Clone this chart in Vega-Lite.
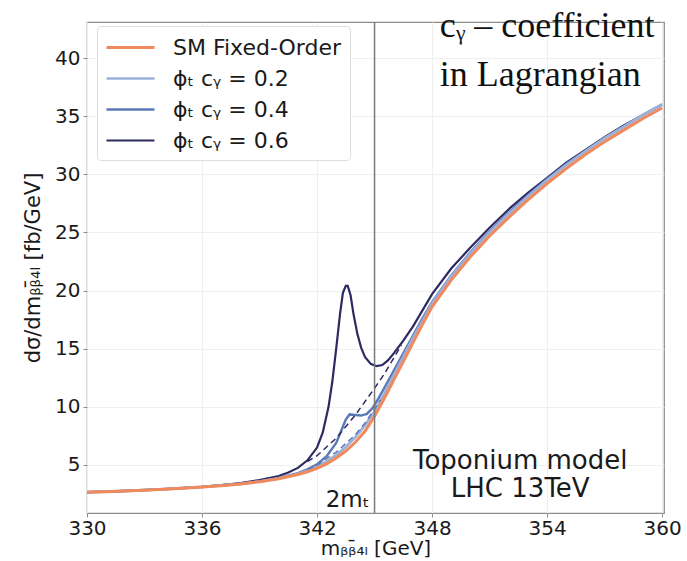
{
  "$schema": "https://vega.github.io/schema/vega-lite/v6.json",
  "autosize": {"type": "none"},
  "width": 577,
  "height": 491,
  "padding": {"left": 87, "top": 22, "right": 23, "bottom": 48},
  "background": "white",
  "config": {
    "font": "DejaVu Sans",
    "view": {"stroke": "#8c8c8c", "strokeWidth": 1.2},
    "axis": {
      "domain": false,
      "grid": true,
      "gridColor": "#efefef",
      "gridWidth": 1,
      "tickColor": "#8c8c8c",
      "tickSize": 4,
      "labelFont": "DejaVu Sans",
      "labelFontSize": 20,
      "labelColor": "#1a1a1a",
      "labelFlush": false,
      "titleFont": "DejaVu Sans",
      "titleFontSize": 20,
      "titleFontWeight": "normal",
      "titleColor": "#1a1a1a"
    }
  },
  "datasets": {
    "curves": [
      {"series": "ϕₜ  cᵧ = 0.6", "m": 330, "v": 2.66},
      {"series": "ϕₜ  cᵧ = 0.6", "m": 332, "v": 2.77},
      {"series": "ϕₜ  cᵧ = 0.6", "m": 334, "v": 2.93},
      {"series": "ϕₜ  cᵧ = 0.6", "m": 336, "v": 3.13},
      {"series": "ϕₜ  cᵧ = 0.6", "m": 337, "v": 3.27},
      {"series": "ϕₜ  cᵧ = 0.6", "m": 338, "v": 3.45},
      {"series": "ϕₜ  cᵧ = 0.6", "m": 339, "v": 3.7},
      {"series": "ϕₜ  cᵧ = 0.6", "m": 340, "v": 4.05},
      {"series": "ϕₜ  cᵧ = 0.6", "m": 340.5, "v": 4.35},
      {"series": "ϕₜ  cᵧ = 0.6", "m": 341, "v": 4.75},
      {"series": "ϕₜ  cᵧ = 0.6", "m": 341.5, "v": 5.4},
      {"series": "ϕₜ  cᵧ = 0.6", "m": 342, "v": 6.5},
      {"series": "ϕₜ  cᵧ = 0.6", "m": 342.3, "v": 7.8},
      {"series": "ϕₜ  cᵧ = 0.6", "m": 342.6, "v": 10.0},
      {"series": "ϕₜ  cᵧ = 0.6", "m": 342.8, "v": 12.2},
      {"series": "ϕₜ  cᵧ = 0.6", "m": 343.0, "v": 15.0},
      {"series": "ϕₜ  cᵧ = 0.6", "m": 343.2, "v": 18.0},
      {"series": "ϕₜ  cᵧ = 0.6", "m": 343.35, "v": 19.8},
      {"series": "ϕₜ  cᵧ = 0.6", "m": 343.5, "v": 20.4},
      {"series": "ϕₜ  cᵧ = 0.6", "m": 343.6, "v": 20.4},
      {"series": "ϕₜ  cᵧ = 0.6", "m": 343.75, "v": 19.6},
      {"series": "ϕₜ  cᵧ = 0.6", "m": 343.9, "v": 18.0},
      {"series": "ϕₜ  cᵧ = 0.6", "m": 344.1, "v": 16.3},
      {"series": "ϕₜ  cᵧ = 0.6", "m": 344.3, "v": 15.1},
      {"series": "ϕₜ  cᵧ = 0.6", "m": 344.5, "v": 14.3},
      {"series": "ϕₜ  cᵧ = 0.6", "m": 344.8, "v": 13.7},
      {"series": "ϕₜ  cᵧ = 0.6", "m": 345.1, "v": 13.5},
      {"series": "ϕₜ  cᵧ = 0.6", "m": 345.4, "v": 13.6},
      {"series": "ϕₜ  cᵧ = 0.6", "m": 345.7, "v": 14.0},
      {"series": "ϕₜ  cᵧ = 0.6", "m": 346.0, "v": 14.6},
      {"series": "ϕₜ  cᵧ = 0.6", "m": 346.5, "v": 15.7},
      {"series": "ϕₜ  cᵧ = 0.6", "m": 347, "v": 16.9},
      {"series": "ϕₜ  cᵧ = 0.6", "m": 347.5, "v": 18.3},
      {"series": "ϕₜ  cᵧ = 0.6", "m": 348, "v": 19.7},
      {"series": "ϕₜ  cᵧ = 0.6", "m": 349, "v": 21.9},
      {"series": "ϕₜ  cᵧ = 0.6", "m": 350, "v": 23.7},
      {"series": "ϕₜ  cᵧ = 0.6", "m": 351, "v": 25.4},
      {"series": "ϕₜ  cᵧ = 0.6", "m": 352, "v": 27.0},
      {"series": "ϕₜ  cᵧ = 0.6", "m": 353, "v": 28.4},
      {"series": "ϕₜ  cᵧ = 0.6", "m": 354, "v": 29.7},
      {"series": "ϕₜ  cᵧ = 0.6", "m": 355, "v": 31.0},
      {"series": "ϕₜ  cᵧ = 0.6", "m": 356, "v": 32.1},
      {"series": "ϕₜ  cᵧ = 0.6", "m": 357, "v": 33.2},
      {"series": "ϕₜ  cᵧ = 0.6", "m": 358, "v": 34.2},
      {"series": "ϕₜ  cᵧ = 0.6", "m": 359, "v": 35.1},
      {"series": "ϕₜ  cᵧ = 0.6", "m": 360, "v": 36.0},

      {"series": "ϕₜ  cᵧ = 0.4", "m": 330, "v": 2.66},
      {"series": "ϕₜ  cᵧ = 0.4", "m": 332, "v": 2.77},
      {"series": "ϕₜ  cᵧ = 0.4", "m": 334, "v": 2.92},
      {"series": "ϕₜ  cᵧ = 0.4", "m": 336, "v": 3.11},
      {"series": "ϕₜ  cᵧ = 0.4", "m": 338, "v": 3.39},
      {"series": "ϕₜ  cᵧ = 0.4", "m": 339, "v": 3.59},
      {"series": "ϕₜ  cᵧ = 0.4", "m": 340, "v": 3.88},
      {"series": "ϕₜ  cᵧ = 0.4", "m": 341, "v": 4.3},
      {"series": "ϕₜ  cᵧ = 0.4", "m": 341.5, "v": 4.62},
      {"series": "ϕₜ  cᵧ = 0.4", "m": 342, "v": 5.05},
      {"series": "ϕₜ  cᵧ = 0.4", "m": 342.5, "v": 5.75},
      {"series": "ϕₜ  cᵧ = 0.4", "m": 343, "v": 6.9},
      {"series": "ϕₜ  cᵧ = 0.4", "m": 343.3, "v": 8.1},
      {"series": "ϕₜ  cᵧ = 0.4", "m": 343.5, "v": 8.9},
      {"series": "ϕₜ  cᵧ = 0.4", "m": 343.7, "v": 9.35},
      {"series": "ϕₜ  cᵧ = 0.4", "m": 344.0, "v": 9.3},
      {"series": "ϕₜ  cᵧ = 0.4", "m": 344.3, "v": 9.25},
      {"series": "ϕₜ  cᵧ = 0.4", "m": 344.6, "v": 9.4},
      {"series": "ϕₜ  cᵧ = 0.4", "m": 344.9, "v": 9.9},
      {"series": "ϕₜ  cᵧ = 0.4", "m": 345.2, "v": 10.7},
      {"series": "ϕₜ  cᵧ = 0.4", "m": 345.6, "v": 11.9},
      {"series": "ϕₜ  cᵧ = 0.4", "m": 346.0, "v": 13.1},
      {"series": "ϕₜ  cᵧ = 0.4", "m": 346.5, "v": 14.6},
      {"series": "ϕₜ  cᵧ = 0.4", "m": 347, "v": 16.1},
      {"series": "ϕₜ  cᵧ = 0.4", "m": 347.5, "v": 17.6},
      {"series": "ϕₜ  cᵧ = 0.4", "m": 348, "v": 19.0},
      {"series": "ϕₜ  cᵧ = 0.4", "m": 349, "v": 21.3},
      {"series": "ϕₜ  cᵧ = 0.4", "m": 350, "v": 23.3},
      {"series": "ϕₜ  cᵧ = 0.4", "m": 351, "v": 25.1},
      {"series": "ϕₜ  cᵧ = 0.4", "m": 352, "v": 26.7},
      {"series": "ϕₜ  cᵧ = 0.4", "m": 353, "v": 28.2},
      {"series": "ϕₜ  cᵧ = 0.4", "m": 354, "v": 29.6},
      {"series": "ϕₜ  cᵧ = 0.4", "m": 355, "v": 30.9},
      {"series": "ϕₜ  cᵧ = 0.4", "m": 356, "v": 32.0},
      {"series": "ϕₜ  cᵧ = 0.4", "m": 357, "v": 33.1},
      {"series": "ϕₜ  cᵧ = 0.4", "m": 358, "v": 34.1},
      {"series": "ϕₜ  cᵧ = 0.4", "m": 359, "v": 35.1},
      {"series": "ϕₜ  cᵧ = 0.4", "m": 360, "v": 36.0},

      {"series": "ϕₜ  cᵧ = 0.2", "m": 330, "v": 2.66},
      {"series": "ϕₜ  cᵧ = 0.2", "m": 332, "v": 2.77},
      {"series": "ϕₜ  cᵧ = 0.2", "m": 334, "v": 2.92},
      {"series": "ϕₜ  cᵧ = 0.2", "m": 336, "v": 3.11},
      {"series": "ϕₜ  cᵧ = 0.2", "m": 338, "v": 3.38},
      {"series": "ϕₜ  cᵧ = 0.2", "m": 339, "v": 3.57},
      {"series": "ϕₜ  cᵧ = 0.2", "m": 340, "v": 3.85},
      {"series": "ϕₜ  cᵧ = 0.2", "m": 341, "v": 4.24},
      {"series": "ϕₜ  cᵧ = 0.2", "m": 341.5, "v": 4.5},
      {"series": "ϕₜ  cᵧ = 0.2", "m": 342, "v": 4.85},
      {"series": "ϕₜ  cᵧ = 0.2", "m": 342.5, "v": 5.3},
      {"series": "ϕₜ  cᵧ = 0.2", "m": 343, "v": 5.85},
      {"series": "ϕₜ  cᵧ = 0.2", "m": 343.5, "v": 6.55},
      {"series": "ϕₜ  cᵧ = 0.2", "m": 344, "v": 7.4},
      {"series": "ϕₜ  cᵧ = 0.2", "m": 344.5, "v": 8.4},
      {"series": "ϕₜ  cᵧ = 0.2", "m": 345, "v": 9.6},
      {"series": "ϕₜ  cᵧ = 0.2", "m": 345.5, "v": 11.1},
      {"series": "ϕₜ  cᵧ = 0.2", "m": 346, "v": 12.7},
      {"series": "ϕₜ  cᵧ = 0.2", "m": 346.5, "v": 14.3},
      {"series": "ϕₜ  cᵧ = 0.2", "m": 347, "v": 15.9},
      {"series": "ϕₜ  cᵧ = 0.2", "m": 347.5, "v": 17.4},
      {"series": "ϕₜ  cᵧ = 0.2", "m": 348, "v": 18.9},
      {"series": "ϕₜ  cᵧ = 0.2", "m": 349, "v": 21.2},
      {"series": "ϕₜ  cᵧ = 0.2", "m": 350, "v": 23.2},
      {"series": "ϕₜ  cᵧ = 0.2", "m": 351, "v": 25.0},
      {"series": "ϕₜ  cᵧ = 0.2", "m": 352, "v": 26.6},
      {"series": "ϕₜ  cᵧ = 0.2", "m": 353, "v": 28.1},
      {"series": "ϕₜ  cᵧ = 0.2", "m": 354, "v": 29.5},
      {"series": "ϕₜ  cᵧ = 0.2", "m": 355, "v": 30.8},
      {"series": "ϕₜ  cᵧ = 0.2", "m": 356, "v": 32.0},
      {"series": "ϕₜ  cᵧ = 0.2", "m": 357, "v": 33.1},
      {"series": "ϕₜ  cᵧ = 0.2", "m": 358, "v": 34.1},
      {"series": "ϕₜ  cᵧ = 0.2", "m": 359, "v": 35.1},
      {"series": "ϕₜ  cᵧ = 0.2", "m": 360, "v": 36.0},

      {"series": "SM Fixed-Order", "m": 330, "v": 2.65},
      {"series": "SM Fixed-Order", "m": 331, "v": 2.7},
      {"series": "SM Fixed-Order", "m": 332, "v": 2.76},
      {"series": "SM Fixed-Order", "m": 333, "v": 2.83},
      {"series": "SM Fixed-Order", "m": 334, "v": 2.91},
      {"series": "SM Fixed-Order", "m": 335, "v": 3.0},
      {"series": "SM Fixed-Order", "m": 336, "v": 3.1},
      {"series": "SM Fixed-Order", "m": 337, "v": 3.22},
      {"series": "SM Fixed-Order", "m": 338, "v": 3.37},
      {"series": "SM Fixed-Order", "m": 339, "v": 3.56},
      {"series": "SM Fixed-Order", "m": 340, "v": 3.82},
      {"series": "SM Fixed-Order", "m": 341, "v": 4.18},
      {"series": "SM Fixed-Order", "m": 341.5, "v": 4.42},
      {"series": "SM Fixed-Order", "m": 342, "v": 4.72},
      {"series": "SM Fixed-Order", "m": 342.5, "v": 5.1},
      {"series": "SM Fixed-Order", "m": 343, "v": 5.6},
      {"series": "SM Fixed-Order", "m": 343.5, "v": 6.2},
      {"series": "SM Fixed-Order", "m": 344, "v": 6.95},
      {"series": "SM Fixed-Order", "m": 344.5, "v": 7.9},
      {"series": "SM Fixed-Order", "m": 345, "v": 9.2},
      {"series": "SM Fixed-Order", "m": 345.5, "v": 10.7},
      {"series": "SM Fixed-Order", "m": 346, "v": 12.3},
      {"series": "SM Fixed-Order", "m": 346.5, "v": 13.9},
      {"series": "SM Fixed-Order", "m": 347, "v": 15.5},
      {"series": "SM Fixed-Order", "m": 347.5, "v": 17.1},
      {"series": "SM Fixed-Order", "m": 348, "v": 18.6},
      {"series": "SM Fixed-Order", "m": 349, "v": 20.9},
      {"series": "SM Fixed-Order", "m": 350, "v": 22.9},
      {"series": "SM Fixed-Order", "m": 351, "v": 24.7},
      {"series": "SM Fixed-Order", "m": 352, "v": 26.3},
      {"series": "SM Fixed-Order", "m": 353, "v": 27.8},
      {"series": "SM Fixed-Order", "m": 354, "v": 29.2},
      {"series": "SM Fixed-Order", "m": 355, "v": 30.5},
      {"series": "SM Fixed-Order", "m": 356, "v": 31.7},
      {"series": "SM Fixed-Order", "m": 357, "v": 32.8},
      {"series": "SM Fixed-Order", "m": 358, "v": 33.8},
      {"series": "SM Fixed-Order", "m": 359, "v": 34.8},
      {"series": "SM Fixed-Order", "m": 360, "v": 35.7}
    ],
    "continuum": [
      {"series": "ϕₜ  cᵧ = 0.6", "m": 341.5, "v": 5.3},
      {"series": "ϕₜ  cᵧ = 0.6", "m": 342, "v": 5.8},
      {"series": "ϕₜ  cᵧ = 0.6", "m": 343, "v": 7.3},
      {"series": "ϕₜ  cᵧ = 0.6", "m": 344, "v": 9.3},
      {"series": "ϕₜ  cᵧ = 0.6", "m": 345, "v": 11.6},
      {"series": "ϕₜ  cᵧ = 0.6", "m": 345.5, "v": 12.8},
      {"series": "ϕₜ  cᵧ = 0.6", "m": 346, "v": 14.2},
      {"series": "ϕₜ  cᵧ = 0.6", "m": 346.4, "v": 15.3},
      {"series": "ϕₜ  cᵧ = 0.4", "m": 341.5, "v": 4.6},
      {"series": "ϕₜ  cᵧ = 0.4", "m": 342, "v": 5.0},
      {"series": "ϕₜ  cᵧ = 0.4", "m": 343, "v": 6.1},
      {"series": "ϕₜ  cᵧ = 0.4", "m": 344, "v": 7.6},
      {"series": "ϕₜ  cᵧ = 0.4", "m": 344.5, "v": 8.6},
      {"series": "ϕₜ  cᵧ = 0.4", "m": 345, "v": 9.8},
      {"series": "ϕₜ  cᵧ = 0.4", "m": 345.3, "v": 10.6}
    ],
    "one": [{}]
  },
  "encoding": {
    "x": {
      "type": "quantitative",
      "scale": {"domain": [330, 360.1], "nice": false, "zero": false},
      "axis": {"values": [330, 336, 342, 348, 354, 360], "title": "mᵦᵦ̄₄ₗ   [GeV]", "titlePadding": 0, "labelPadding": 1}
    },
    "y": {
      "type": "quantitative",
      "scale": {"domain": [0.87, 43.1], "nice": false, "zero": false},
      "axis": {"values": [5, 10, 15, 20, 25, 30, 35, 40], "title": "dσ/dmᵦᵦ̄₄ₗ   [fb/GeV]", "titleFontSize": 21, "titlePadding": 11, "labelPadding": 3}
    }
  },
  "layer": [
    {
      "data": {"name": "curves"},
      "mark": {"type": "line", "clip": true},
      "encoding": {
        "x": {"field": "m", "type": "quantitative"},
        "y": {"field": "v", "type": "quantitative"},
        "color": {
          "field": "series",
          "type": "nominal",
          "sort": null,
          "scale": {
            "domain": ["SM Fixed-Order", "ϕₜ  cᵧ = 0.2", "ϕₜ  cᵧ = 0.4", "ϕₜ  cᵧ = 0.6"],
            "range": ["#f08a5d", "#9db0d8", "#5b79b6", "#2d2a62"]
          },
          "legend": {
            "title": null,
            "orient": "none",
            "legendX": 10,
            "legendY": 4,
            "symbolType": "M-2,0H2",
            "symbolSize": 576,
            "symbolOffset": 12,
            "symbolStrokeWidth": 2.5,
            "labelFont": "DejaVu Sans",
            "labelFontSize": 22,
            "labelColor": "#1a1a1a",
            "labelOffset": 29,
            "rowPadding": 6,
            "padding": 8,
            "strokeColor": "#dddddd",
            "fillColor": "white",
            "cornerRadius": 4,
            "labelLimit": 400
          }
        },
        "strokeWidth": {
          "field": "series",
          "type": "nominal",
          "scale": {
            "domain": ["SM Fixed-Order", "ϕₜ  cᵧ = 0.2", "ϕₜ  cᵧ = 0.4", "ϕₜ  cᵧ = 0.6"],
            "range": [3, 2.2, 2.2, 2.4]
          },
          "legend": null
        }
      }
    },
    {
      "data": {"name": "continuum"},
      "mark": {"type": "line", "strokeDash": [6, 4], "strokeWidth": 1.5, "clip": true},
      "encoding": {
        "x": {"field": "m", "type": "quantitative"},
        "y": {"field": "v", "type": "quantitative"},
        "color": {"field": "series", "type": "nominal"}
      }
    },
    {
      "data": {"name": "one"},
      "mark": {"type": "rule", "color": "#7a7a7a", "strokeWidth": 1.5},
      "encoding": {"x": {"datum": 345}}
    },
    {
      "data": {"name": "one"},
      "mark": {"type": "text", "font": "DejaVu Sans", "fontSize": 23, "align": "right", "baseline": "middle", "dx": -5, "color": "#1a1a1a"},
      "encoding": {"x": {"datum": 345}, "y": {"datum": 2.0}, "text": {"value": "2mₜ"}}
    },
    {
      "data": {"name": "one"},
      "mark": {"type": "text", "font": "DejaVu Sans", "fontSize": 26, "align": "center", "baseline": "alphabetic", "lineHeight": 28, "color": "#1a1a1a"},
      "encoding": {"x": {"datum": 352.6}, "y": {"datum": 4.65}, "text": {"value": ["Toponium model", "LHC 13TeV"]}}
    },
    {
      "data": {"name": "one"},
      "mark": {"type": "text", "font": "Liberation Serif", "fontSize": 36, "align": "left", "baseline": "alphabetic", "lineHeight": 49, "color": "#111111"},
      "encoding": {"x": {"datum": 348.4}, "y": {"datum": 41.8}, "text": {"value": ["cᵧ – coefficient", "in Lagrangian"]}}
    }
  ]
}
